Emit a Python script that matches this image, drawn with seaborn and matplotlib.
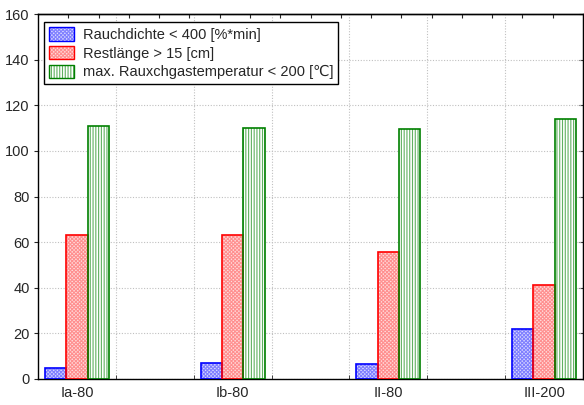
import matplotlib
matplotlib.use("Agg")
import matplotlib.pyplot as plt
import seaborn as sns
import pandas as pd
import numpy as np
from matplotlib.patches import Patch
from matplotlib.legend_handler import HandlerTuple

categories = ["Ia-80", "Ib-80", "II-80", "III-200"]
series = ["Rauchdichte < 400 [%*min]", "Restlänge > 15 [cm]", "max. Rauxchgastemperatur < 200 [\u2103]"]
rauchdichte = [4.8, 7.0, 6.5, 21.8]
restlaenge = [63.2, 63.2, 55.8, 41.0]
temperatur = [110.8, 110.0, 109.5, 113.8]

rows = []
for s, vals in zip(series, [rauchdichte, restlaenge, temperatur]):
    for c, v in zip(categories, vals):
        rows.append({"cat": c, "series": s, "value": v})
df = pd.DataFrame(rows)

sns.set_style("white")
plt.rcParams['font.family'] = ['Liberation Sans', 'DejaVu Sans']
plt.rcParams['hatch.linewidth'] = 0.8

fig = plt.figure(figsize=(5.84, 4.05), dpi=100)
ax = fig.add_axes([38/584, 26/405, 545/584, 365/405])

edge = ["#0000ff", "#ff0000", "#008000"]
face = ["#d8d8ff", "#ffdcdc", "#ffffff"]
hatches = ["xxxxxxxxx", "xxxxxxxxx", "||||||"]
hatchcol = ["#8080ff", "#ff9090", "#60b060"]

sns.barplot(data=df, x="cat", y="value", hue="series", order=categories,
            hue_order=series, width=0.41, ax=ax, dodge=True, legend=False)

for i, cont in enumerate(ax.containers):
    for p in cont.patches:
        p.set_facecolor(face[i])
        p.set_edgecolor(hatchcol[i])
        p.set_hatch(hatches[i])
        p.set_linewidth(0)
        ax.add_patch(plt.Rectangle(p.get_xy(), p.get_width(), p.get_height(),
                                   fill=False, edgecolor=edge[i], linewidth=1.2, zorder=3))

ax.set_xlim(-0.25, 3.25)
ax.set_ylim(0, 160)
ax.set_yticks(np.arange(0, 161, 20))
ax.set_xticks(range(4))
ax.set_xticklabels(categories)
ax.set_xticks(np.arange(0.25, 3.25, 0.5), minor=True)
ax.set_xlabel("")
ax.set_ylabel("")
ax.grid(False)
ax.grid(axis="y", which="major", color="#c0c0c0", linestyle=(0, (1, 1.5)), linewidth=0.8)
ax.grid(axis="x", which="minor", color="#c0c0c0", linestyle=(0, (1, 1.5)), linewidth=0.8)
ax.set_axisbelow(True)
ax.tick_params(axis="x", which="major", length=0, labelsize=10.5, pad=5)
ax.tick_params(axis="x", which="minor", direction="in", length=3, top=False, bottom=True)
ax.tick_params(axis="y", which="major", direction="out", length=3, left=True, right=False, labelsize=10.5, pad=3)
for s in ax.spines.values():
    s.set_color("black")
    s.set_linewidth(1.0)

# top tick marks
top = ax.secondary_xaxis("top")
top.set_xticks(np.linspace(-0.25, 3.25, 19)[1:-1])
top.tick_params(direction="in", length=3, labeltop=False)
top.spines["top"].set_linewidth(1.0)
# right tick marks
right = ax.secondary_yaxis("right")
right.set_yticks(np.arange(0, 161, 20))
right.tick_params(direction="in", length=3, labelright=False)

hs = []
for i in range(3):
    fillp = Patch(facecolor=face[i], edgecolor=hatchcol[i], hatch=hatches[i], linewidth=0)
    outl = Patch(facecolor="none", edgecolor=edge[i], linewidth=1.0)
    hs.append((fillp, outl))
leg = ax.legend(hs, series, loc="upper left", bbox_to_anchor=(0.006, 0.985), fontsize=10.5,
                frameon=True, fancybox=False, edgecolor="black", framealpha=1,
                handlelength=1.7, handleheight=1.0, labelspacing=0.28, borderpad=0.35,
                handletextpad=0.6, borderaxespad=0.2,
                handler_map={tuple: HandlerTuple(ndivide=1, pad=0)})
leg.get_frame().set_linewidth(1.0)

fig.savefig("out.png", dpi=100)
